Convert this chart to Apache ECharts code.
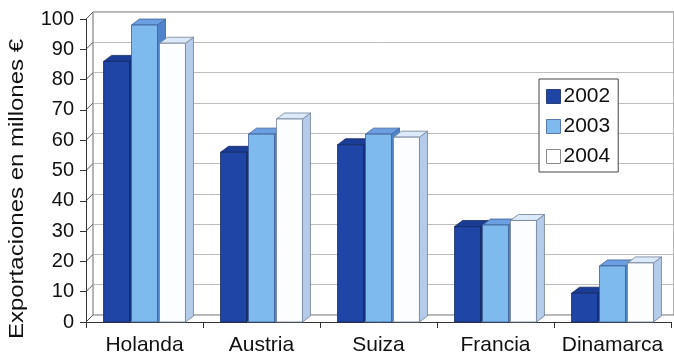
<!DOCTYPE html>
<html>
<head>
<meta charset="utf-8">
<script src="https://cdn.jsdelivr.net/npm/echarts@6/dist/echarts.min.js"></script>
<style>
  html, body { margin: 0; padding: 0; background: #ffffff; }
  #chart { width: 674px; height: 357px; }
</style>
</head>
<body>
<div id="chart"></div>
<script>
// Exportaciones por país y año (millones de €)
const categories = ['Holanda', 'Austria', 'Suiza', 'Francia', 'Dinamarca'];
const years = ['2002', '2003', '2004'];
const v2002 = [86, 56, 58.5, 31.5, 9.5];
const v2003 = [98, 62, 62, 32, 18.5];
const v2004 = [92, 67, 61, 33.5, 19.5];
const yTicks = [0, 10, 20, 30, 40, 50, 60, 70, 80, 90, 100];

const FONT = 'Liberation Sans, Arial, Helvetica, sans-serif';

// Face colours of the pseudo-3D columns: front, top, side, edge
const faces = [
  { front: '#1f45a6', top: '#1c3d96', side: '#17347f', edge: '#13285f' },
  { front: '#7fbaef', top: '#6c9fe2', side: '#4f84cc', edge: '#3d5f96' },
  { front: '#fbfdff', top: '#dce9f8', side: '#b5cbea', edge: '#6f7f96' }
];

// depth offsets of the walls and of the columns
const WALL_DX = 7, WALL_DY = -7;
const BAR_DX = 8, BAR_DY = -6;

function barSeries(name, values, k) {
  const f = faces[k];
  return {
    name: name,
    type: 'custom',
    xAxisIndex: 0,
    yAxisIndex: 0,
    z: 5,
    clip: false,
    itemStyle: { color: f.front },
    data: values.map((v, i) => [i, v]),
    renderItem: function (params, api) {
      const cat = api.value(0);
      const val = api.value(1);
      const top = api.coord([cat, val]);
      const base = api.coord([cat, 0]);
      const cw = api.size([1, 0])[0];
      const bw = cw * 0.222;
      const step = cw * 0.239;
      const cx = top[0] + (k - 1) * step;
      const x0 = cx - bw / 2, x1 = cx + bw / 2;
      const yt = top[1], yb = base[1];
      const line = { stroke: f.edge, lineWidth: 0.8 };
      return {
        type: 'group',
        children: [
          {
            type: 'polygon',
            shape: { points: [[x1, yt], [x1 + BAR_DX, yt + BAR_DY], [x1 + BAR_DX, yb + BAR_DY], [x1, yb]] },
            style: Object.assign({ fill: f.side }, line)
          },
          {
            type: 'polygon',
            shape: { points: [[x0, yt], [x0 + BAR_DX, yt + BAR_DY], [x1 + BAR_DX, yt + BAR_DY], [x1, yt]] },
            style: Object.assign({ fill: f.top }, line)
          },
          {
            type: 'rect',
            shape: { x: x0, y: yt, width: bw, height: yb - yt },
            style: Object.assign({ fill: f.front }, line)
          }
        ]
      };
    }
  };
}

// diagonal tick lines on the left side wall
const sideWall = {
  type: 'custom',
  xAxisIndex: 0,
  yAxisIndex: 0,
  z: 2,
  clip: false,
  silent: true,
  data: yTicks.map(v => [0, v]),
  renderItem: function (params, api) {
    const y = api.coord([0, api.value(1)])[1];
    const x = params.coordSys.x;
    return {
      type: 'line',
      shape: { x1: x, y1: y, x2: x + WALL_DX, y2: y + WALL_DY },
      style: { stroke: '#555555', lineWidth: 1 }
    };
  }
};

const chart = echarts.init(document.getElementById('chart'), null, { renderer: 'canvas' });

chart.setOption({
  animation: false,
  backgroundColor: '#ffffff',
  grid: [
    { left: 86, top: 19, width: 585, height: 303 },
    { left: 86 + WALL_DX, top: 19 + WALL_DY, width: 585, height: 303,
      show: true, borderColor: '#6a6a6a', borderWidth: 1, backgroundColor: 'transparent', z: 0 }
  ],
  xAxis: [
    {
      gridIndex: 0,
      type: 'category',
      data: categories,
      boundaryGap: true,
      axisLine: { show: true, lineStyle: { color: '#333333', width: 1 } },
      axisTick: { show: true, length: 6, lineStyle: { color: '#333333' } },
      axisLabel: { color: '#111111', fontFamily: FONT, fontSize: 21, margin: 13, interval: 0, hideOverlap: false },
      splitLine: { show: false },
      z: 3
    },
    {
      gridIndex: 1,
      type: 'category',
      data: categories,
      show: false
    }
  ],
  yAxis: [
    {
      gridIndex: 0,
      type: 'value',
      min: 0, max: 100, interval: 10,
      axisLine: { show: true, lineStyle: { color: '#333333', width: 1 } },
      axisTick: { show: true, length: 6, lineStyle: { color: '#333333' } },
      axisLabel: { color: '#111111', fontFamily: FONT, fontSize: 20, margin: 12 },
      splitLine: { show: false },
      z: 3
    },
    {
      gridIndex: 1,
      type: 'value',
      min: 0, max: 100, interval: 10,
      axisLine: { show: false },
      axisTick: { show: false },
      axisLabel: { show: false },
      splitLine: { show: true, lineStyle: { color: '#bdbdbd', width: 1 } },
      z: 0
    }
  ],
  legend: {
    orient: 'vertical',
    left: 539,
    top: 79,
    padding: [7, 8, 5, 7],
    itemWidth: 14,
    itemHeight: 14,
    itemGap: 9,
    icon: 'rect',
    backgroundColor: '#ffffff',
    borderColor: '#444444',
    borderWidth: 1,
    borderRadius: 0,
    textStyle: { color: '#111111', fontFamily: FONT, fontSize: 21, padding: [0, 0, 0, -2] },
    data: [
      { name: years[0], itemStyle: { color: faces[0].front, borderColor: faces[0].edge, borderWidth: 0.8 } },
      { name: years[1], itemStyle: { color: faces[1].front, borderColor: faces[1].edge, borderWidth: 0.8 } },
      { name: years[2], itemStyle: { color: '#ffffff', borderColor: '#8a8a8a', borderWidth: 1 } }
    ],
    z: 10
  },
  graphic: [
    {
      type: 'text',
      x: 17,
      y: 189,
      rotation: Math.PI / 2,
      scaleX: 1.2,
      style: {
        text: 'Exportaciones en millones €',
        font: '20px ' + FONT,
        fill: '#111111',
        align: 'center',
        verticalAlign: 'middle'
      }
    }
  ],
  series: [
    sideWall,
    barSeries(years[0], v2002, 0),
    barSeries(years[1], v2003, 1),
    barSeries(years[2], v2004, 2)
  ]
});
</script>
</body>
</html>
